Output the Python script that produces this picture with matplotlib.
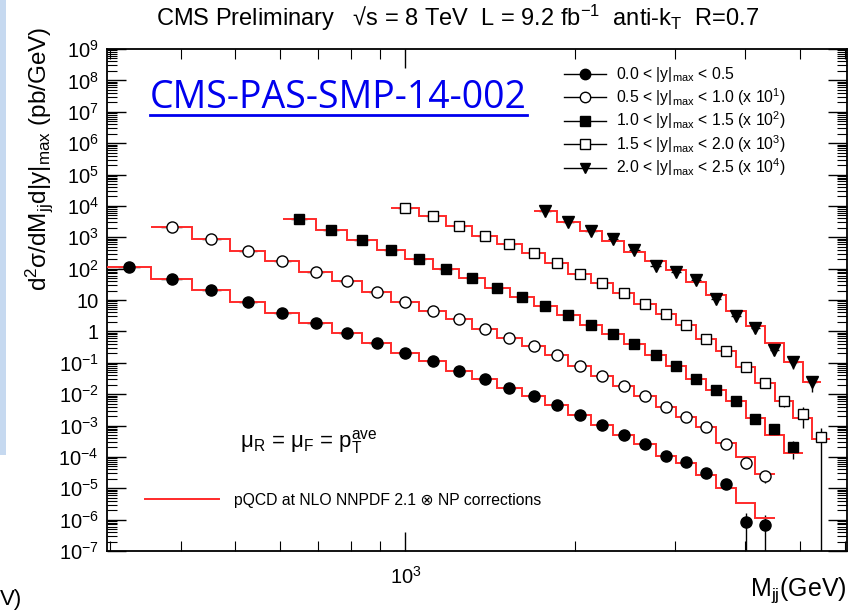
import matplotlib
matplotlib.use("Agg")
import matplotlib.pyplot as plt
import numpy as np
from matplotlib.lines import Line2D
from matplotlib.patches import Rectangle
from matplotlib.ticker import FixedLocator, LogLocator, FuncFormatter, NullFormatter

plt.rcParams['font.family'] = ['Liberation Sans', 'DejaVu Sans']
plt.rcParams['mathtext.fontset'] = 'custom'
plt.rcParams['mathtext.rm'] = 'Liberation Sans'
plt.rcParams['mathtext.it'] = 'Liberation Sans:italic'
plt.rcParams['mathtext.bf'] = 'Liberation Sans:bold'

# dijet mass bin edges (GeV), two interleaved binnings
edges_a = [296, 354, 419, 489, 565, 649, 740, 838, 944, 1058, 1181, 1313, 1455,
           1607, 1770, 1945, 2132, 2332, 2546, 2775, 3019, 3279, 3558, 3854,
           4171, 4509, 4869, 5253, 5663]
edges_b = [606, 693, 788, 890, 1000, 1118, 1246, 1383, 1530, 1687, 1856, 2037,
           2231, 2438, 2659, 2895, 3147, 3416, 3704, 4010, 4337, 4686, 5058, 5455]

# 0.0 < |y|max < 0.5
edges0 = edges_a[0:26]
data0 = [115, 45.7, 20.9, 8.7, 3.98, 1.91, 0.87, 0.417, 0.209, 0.115, 0.055, 0.0295,
         0.0158, 8.7e-3, 4.47e-3, 2.14e-3, 1.02e-3, 5.0e-4, 2.57e-4, 1.10e-4, 7.1e-5,
         3.16e-5, 1.38e-5, 8.3e-7, 6.8e-7]
theo0 = [115, 45.7, 20.9, 8.7, 3.98, 1.91, 0.87, 0.417, 0.209, 0.115, 0.055, 0.0295,
         0.0158, 8.7e-3, 4.47e-3, 2.14e-3, 1.02e-3, 5.0e-4, 2.57e-4, 1.10e-4, 6.2e-5,
         2.6e-5, 1.0e-5, 3.4e-6, 1.1e-6]
err0 = [0.01, 0.01, 0.01, 0.01, 0.01, 0.01, 0.01, 0.01, 0.01, 0.01, 0.01, 0.01, 0.01,
        0.02, 0.02, 0.03, 0.04, 0.05, 0.07, 0.09, 0.12, 0.18, 0.25, 1.0, 1.0]

# 0.5 < |y|max < 1.0
edges1 = edges_a[1:26]
data1 = [209, 87, 37.2, 17.4, 7.9, 4.17, 1.82, 0.89, 0.457, 0.240, 0.117, 0.063, 0.0339,
         0.0178, 8.1e-3, 3.9e-3, 1.82e-3, 8.9e-4, 3.8e-4, 1.91e-4, 9.1e-5, 2.57e-5,
         6.5e-6, 2.45e-6]
theo1 = [209, 87, 37.2, 17.4, 7.9, 4.17, 1.82, 0.89, 0.457, 0.240, 0.117, 0.063, 0.0339,
         0.0178, 8.1e-3, 3.9e-3, 1.82e-3, 8.9e-4, 3.8e-4, 1.91e-4, 9.1e-5, 2.7e-5,
         1.02e-5, 2.95e-6]
err1 = [0.01, 0.01, 0.01, 0.01, 0.01, 0.01, 0.01, 0.01, 0.01, 0.01, 0.01, 0.01, 0.02,
        0.02, 0.03, 0.04, 0.05, 0.06, 0.08, 0.10, 0.15, 0.25, 0.35, 0.42]

# 1.0 < |y|max < 1.5
edges2 = edges_b[0:23]
data2 = [38, 17, 8.1, 3.9, 2.0, 0.98, 0.49, 0.25, 0.126, 0.066, 0.033, 0.0158, 8.1e-3,
         4.0e-3, 1.78e-3, 7.9e-4, 2.95e-4, 1.35e-4, 6.2e-5, 1.58e-5, 7.6e-6, 2.0e-6]
theo2 = [38, 17, 8.1, 3.9, 2.0, 0.98, 0.49, 0.25, 0.126, 0.066, 0.033, 0.0158, 8.1e-3,
         4.0e-3, 1.78e-3, 7.9e-4, 2.95e-4, 1.35e-4, 6.2e-5, 1.78e-5, 5.0e-6, 1.29e-6]
err2 = [0.01, 0.01, 0.01, 0.01, 0.01, 0.01, 0.01, 0.01, 0.02, 0.02, 0.03, 0.03, 0.04,
        0.05, 0.06, 0.08, 0.10, 0.13, 0.18, 0.25, 0.35, 0.58]

# 1.5 < |y|max < 2.0
edges3 = edges_a[8:29]
data3 = [8.5, 4.6, 2.34, 1.10, 0.60, 0.324, 0.148, 0.068, 0.034, 0.0170, 7.2e-3, 3.5e-3,
         1.58e-3, 5.6e-4, 2.34e-4, 7.1e-5, 2.19e-5, 6.2e-6, 2.34e-6, 4.2e-7]
theo3 = [8.5, 4.6, 2.34, 1.10, 0.60, 0.324, 0.148, 0.068, 0.034, 0.0170, 7.2e-3, 3.5e-3,
         1.58e-3, 5.6e-4, 2.34e-4, 7.1e-5, 2.19e-5, 6.2e-6, 1.78e-6, 3.6e-7]
err3 = [0.01, 0.01, 0.01, 0.02, 0.02, 0.02, 0.03, 0.03, 0.04, 0.05, 0.06, 0.07, 0.09,
        0.11, 0.14, 0.18, 0.25, 0.35, 0.65, 1.0]

# 2.0 < |y|max < 2.5
edges4 = edges_b[9:24]
data4 = [0.69, 0.316, 0.158, 0.087, 0.038, 0.0117, 7.6e-3, 4.3e-3, 1.10e-3, 3.2e-4,
         1.32e-4, 2.57e-5, 1.05e-5, 2.4e-6]
theo4 = [0.71, 0.316, 0.162, 0.078, 0.035, 0.0178, 9.1e-3, 3.8e-3, 1.45e-3, 4.3e-4,
         1.48e-4, 4.2e-5, 1.07e-5, 2.5e-6]
err4 = [0.02, 0.02, 0.03, 0.04, 0.05, 0.07, 0.08, 0.10, 0.15, 0.18, 0.20, 0.30, 0.40, 0.52]

scales = [1, 10, 100, 1000, 10000]
labels = [r"0.0 < |y|$_{\mathrm{max}}$ < 0.5",
          r"0.5 < |y|$_{\mathrm{max}}$ < 1.0 (x 10$^{1}$)",
          r"1.0 < |y|$_{\mathrm{max}}$ < 1.5 (x 10$^{2}$)",
          r"1.5 < |y|$_{\mathrm{max}}$ < 2.0 (x 10$^{3}$)",
          r"2.0 < |y|$_{\mathrm{max}}$ < 2.5 (x 10$^{4}$)"]

series = [(edges0, data0, theo0, err0), (edges1, data1, theo1, err1),
          (edges2, data2, theo2, err2), (edges3, data3, theo3, err3),
          (edges4, data4, theo4, err4)]
markers = ['o', 'o', 's', 's', 'v']
mfcs = ['k', 'white', 'k', 'white', 'k']
msizes = [8, 8, 7.5, 7.5, 8]
red = '#ff2a2a'

fig = plt.figure(figsize=(8.48, 6.10), dpi=100)
ax = fig.add_axes([107 / 848, 59 / 610, 740 / 848, 502 / 610])

handles = []
for (edges, data, theo, err), s, m, fc, ms, lab in zip(series, scales, markers, mfcs, msizes, labels):
    e = np.array(edges, dtype=float)
    lo, hi = e[:-1], e[1:]
    xc = np.sqrt(lo * hi)
    y = np.array(data) * s
    t = np.array(theo) * s
    r = np.array(err)
    xl = xc - np.sqrt(lo * xc)
    xh = np.sqrt(hi * xc) - xc
    ax.errorbar(xc, y, xerr=[xl, xh], yerr=[np.minimum(r, 0.999999) * y, r * y],
                fmt='none', ecolor='k', elinewidth=1.0, zorder=2)
    ax.stairs(t, e, baseline=None, color=red, lw=1.4, zorder=3)
    ax.plot(xc, y, ls='none', marker=m, mfc=fc, mec='k', mew=1.0, ms=ms, zorder=4)
    handles.append(Line2D([], [], color='k', lw=1.0, marker=m, mfc=fc, mec='k', ms=ms - 0.5, label=lab))

ax.set_xscale('log')
ax.set_yscale('log')
ax.set_xlim(296, 6060)
ax.set_ylim(1e-7, 1e9)

ax.xaxis.set_major_locator(FixedLocator([1000]))
ax.xaxis.set_minor_locator(FixedLocator([300, 400, 500, 600, 700, 800, 900, 2000, 3000, 4000, 5000, 6000]))
ax.xaxis.set_major_formatter(FuncFormatter(lambda v, p: r"$10^{3}$"))
ax.xaxis.set_minor_formatter(NullFormatter())
ax.yaxis.set_major_locator(LogLocator(base=10, numticks=40))
ax.yaxis.set_minor_locator(LogLocator(base=10, subs=np.arange(2, 10), numticks=200))
ax.yaxis.set_minor_formatter(NullFormatter())


def ylab(v, p):
    n = int(round(np.log10(v)))
    if n == 1:
        return "10"
    if n == 0:
        return "1"
    return r"$10^{%d}$" % n


ax.yaxis.set_major_formatter(FuncFormatter(ylab))
ax.tick_params(which='both', direction='in', top=True, right=True, labelsize=14.5)
ax.tick_params(which='major', length=14, width=1.0)
ax.tick_params(which='minor', length=7, width=0.8)
ax.tick_params(axis='y', pad=6)
ax.tick_params(axis='x', pad=11)
for sp in ax.spines.values():
    sp.set_linewidth(1.3)

leg = ax.legend(handles=handles, loc='upper left', bbox_to_anchor=(564 / 848, 1 - 65 / 610),
                bbox_transform=fig.transFigure, frameon=False, fontsize=11.3,
                handlelength=2.7, handletextpad=0.6, labelspacing=0.12,
                borderpad=0, borderaxespad=0)
ax.add_artist(leg)
th = [Line2D([], [], color=red, lw=1.4)]
ax.legend(th, ["pQCD at NLO NNPDF 2.1 ⊗ NP corrections"], loc='center left',
          bbox_to_anchor=(145 / 848, 1 - 500 / 610), bbox_transform=fig.transFigure,
          frameon=False, fontsize=11.3, handlelength=4.7, handletextpad=1.0,
          borderpad=0, borderaxespad=0)

fig.text(458 / 848, 1 - 18 / 610,
         r"CMS Preliminary   √s = 8 TeV  L = 9.2 fb$^{-1}$  anti-k$_{\mathrm{T}}$  R=0.7",
         ha='center', va='center', fontsize=17)
fig.text(39 / 848, 1 - 27 / 610,
         r"d$^{2}$σ/dM$_{\mathrm{jj}}$d|y|$_{\mathrm{max}}$ (pb/GeV)",
         rotation=90, ha='center', va='top', fontsize=17.5)
fig.text(847 / 848, 1 - 590 / 610, r"M$_{\mathrm{jj}}$(GeV)", ha='right', va='center', fontsize=18)
fig.text(240 / 848, 1 - 447 / 610,
         r"μ$_{\mathrm{R}}$ = μ$_{\mathrm{F}}$ = p$_{\mathrm{T}}^{\mathrm{ave}}$",
         ha='left', va='baseline', fontsize=16)

link = fig.text(150 / 848, 1 - 108 / 610, "CMS-PAS-SMP-14-002", family='Open Sans',
                fontsize=27, color='#0000ee', ha='left', va='baseline')
fig.canvas.draw()
bb = link.get_window_extent(fig.canvas.get_renderer())
fig.add_artist(Line2D([bb.x0 / 848, bb.x1 / 848], [1 - 115 / 610, 1 - 115 / 610],
                      transform=fig.transFigure, color='#0000ee', lw=2))

# slide remnants at the left edge
fig.add_artist(Rectangle((0, 1 - 455 / 610), 6 / 848, 455 / 610, transform=fig.transFigure,
                         color='#c6d9f0', lw=0))
fig.text(0, 1 - 600 / 610, "V)", ha='left', va='center', fontsize=16)

fig.savefig('out.png', dpi=100)
